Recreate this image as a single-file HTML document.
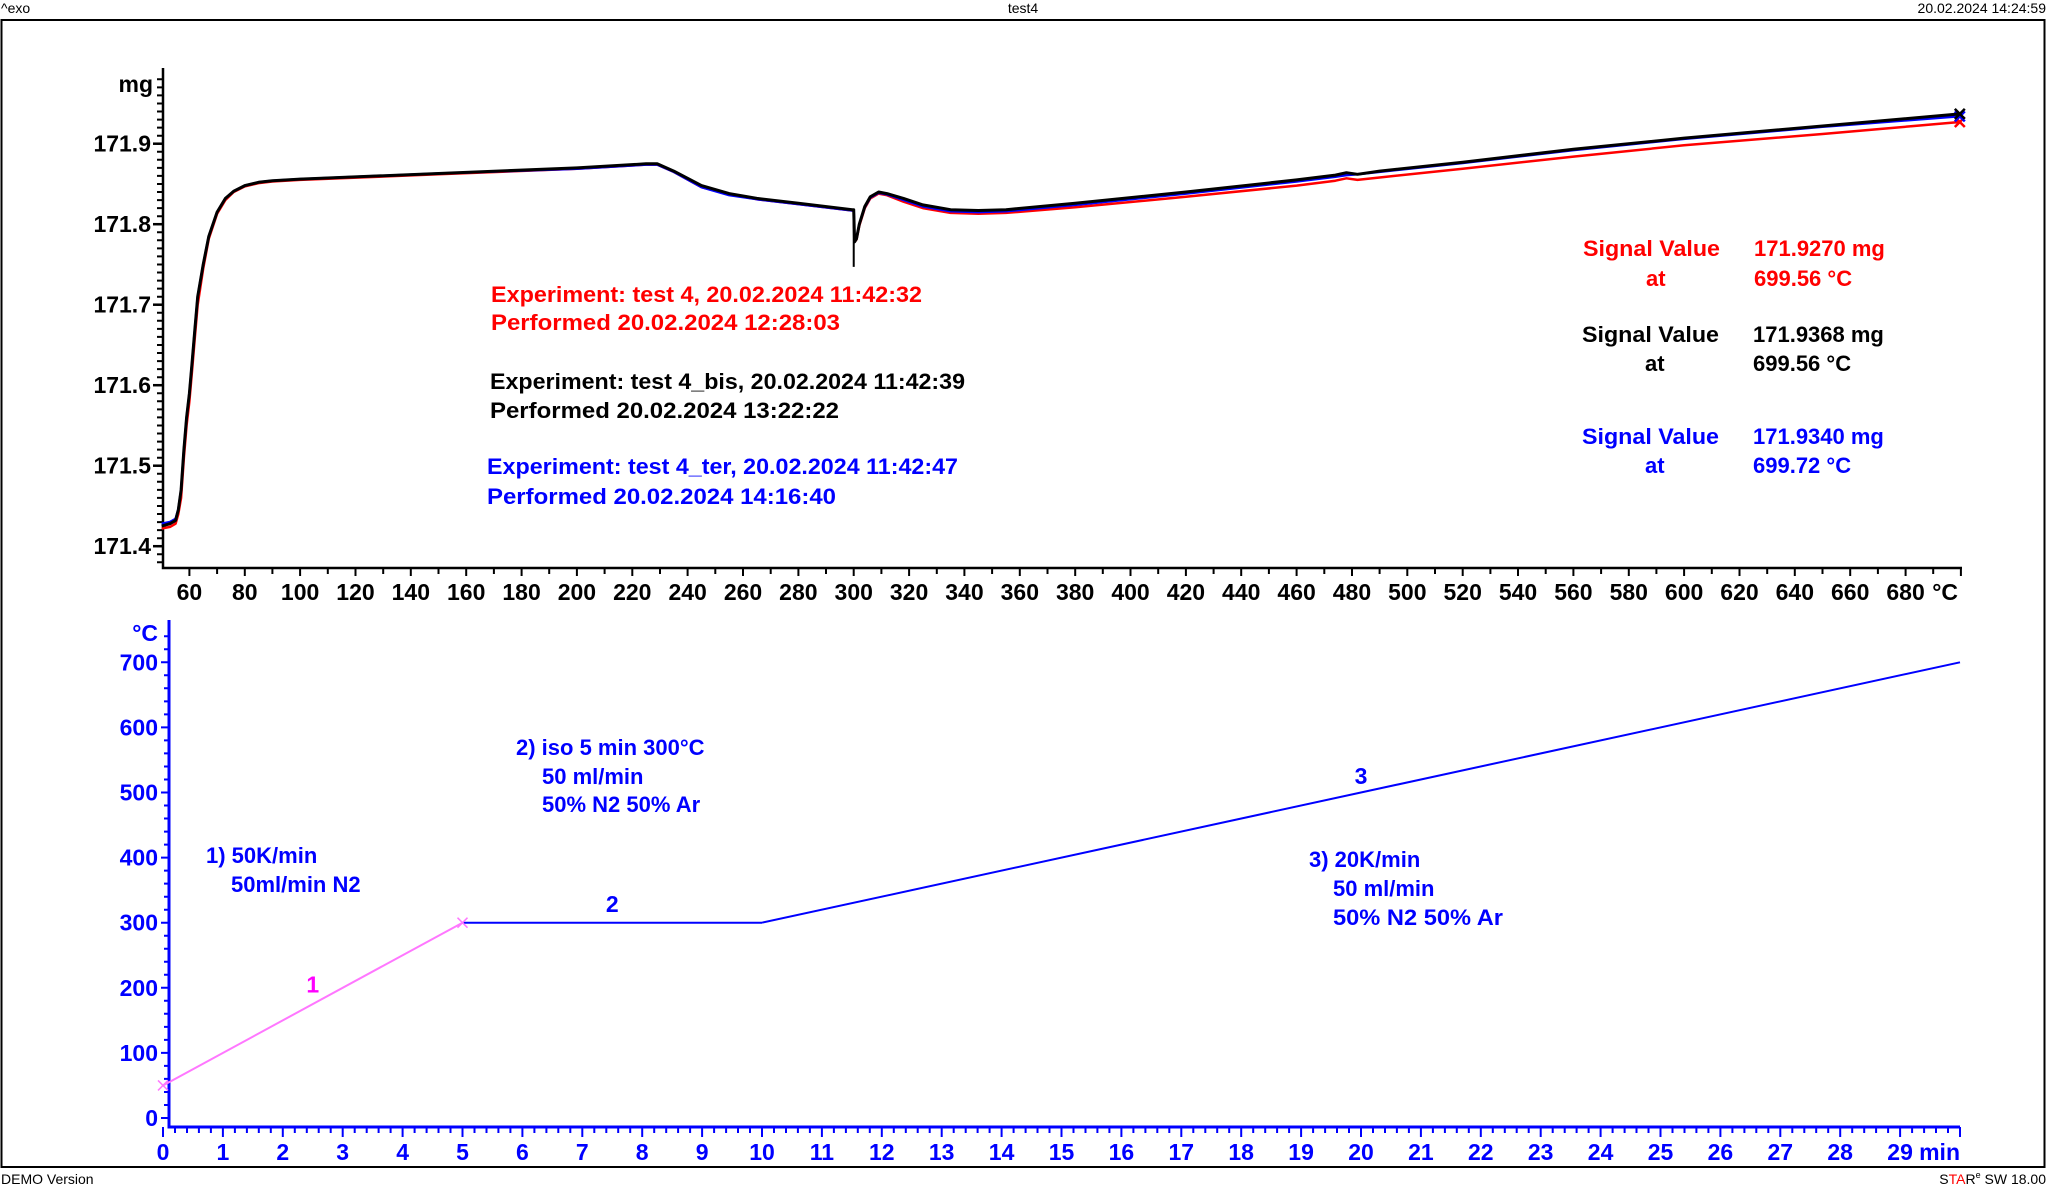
<!DOCTYPE html>
<html><head><meta charset="utf-8"><style>
html,body{margin:0;padding:0;background:#fff;}
svg{display:block;font-family:"Liberation Sans",Arial,sans-serif;}
.b{font-weight:bold;}
</style></head><body>
<svg id="chart" width="2048" height="1189" viewBox="0 0 2048 1189" xmlns="http://www.w3.org/2000/svg">
<text x="1" y="13" font-size="14">^exo</text>
<text x="1023" y="13" font-size="14" text-anchor="middle">test4</text>
<text x="2046" y="13" font-size="14" text-anchor="end">20.02.2024 14:24:59</text>
<rect x="1.5" y="20" width="2043" height="1147" fill="none" stroke="#000" stroke-width="2"/>
<text x="1" y="1184" font-size="14">DEMO Version</text>
<text x="2046" y="1184" font-size="14" text-anchor="end">S<tspan fill="#f00">TA</tspan>R<tspan font-size="9" dy="-6">e</tspan><tspan dy="6"> SW 18.00</tspan></text>
<g id="upper"></g>
<g id="lower"></g>
<g class="b" font-size="22">
<text x="491" y="302" fill="#f00" textLength="431" lengthAdjust="spacingAndGlyphs">Experiment: test 4, 20.02.2024 11:42:32</text>
<text x="491" y="330" fill="#f00" textLength="349" lengthAdjust="spacingAndGlyphs">Performed  20.02.2024 12:28:03</text>
<text x="490" y="389" fill="#000" textLength="475" lengthAdjust="spacingAndGlyphs">Experiment: test 4_bis, 20.02.2024 11:42:39</text>
<text x="490" y="418" fill="#000" textLength="349" lengthAdjust="spacingAndGlyphs">Performed  20.02.2024 13:22:22</text>
<text x="487" y="474" fill="#00f" textLength="471" lengthAdjust="spacingAndGlyphs">Experiment: test 4_ter, 20.02.2024 11:42:47</text>
<text x="487" y="504" fill="#00f" textLength="349" lengthAdjust="spacingAndGlyphs">Performed  20.02.2024 14:16:40</text>
</g>
<g class="b" font-size="22">
<text x="1583" y="256" fill="#f00" textLength="137" lengthAdjust="spacingAndGlyphs">Signal Value</text>
<text x="1646" y="286" fill="#f00">at</text>
<text x="1754" y="256" fill="#f00">171.9270 mg</text>
<text x="1754" y="286" fill="#f00">699.56 °C</text>
<text x="1582" y="342" fill="#000" textLength="137" lengthAdjust="spacingAndGlyphs">Signal Value</text>
<text x="1645" y="371" fill="#000">at</text>
<text x="1753" y="342" fill="#000">171.9368 mg</text>
<text x="1753" y="371" fill="#000">699.56 °C</text>
<text x="1582" y="444" fill="#00f" textLength="137" lengthAdjust="spacingAndGlyphs">Signal Value</text>
<text x="1645" y="473" fill="#00f">at</text>
<text x="1753" y="444" fill="#00f">171.9340 mg</text>
<text x="1753" y="473" fill="#00f">699.72 °C</text>
</g>
<g class="b" font-size="22" fill="#00f">
<text x="516" y="755">2) iso 5 min 300°C</text>
<text x="542" y="784">50 ml/min</text>
<text x="542" y="812">50% N2 50% Ar</text>
<text x="206" y="863">1) 50K/min</text>
<text x="231" y="892">50ml/min N2</text>
<text x="1309" y="867">3) 20K/min</text>
<text x="1333" y="896">50 ml/min</text>
<text x="1333" y="925" textLength="170" lengthAdjust="spacingAndGlyphs">50% N2 50% Ar</text>
</g>
</svg>
<script>
// ---- upper plot data (temperature °C vs mass mg) ----
const tempC = [50,53,55,56,57,58,59,60,61,62,63,65,67,70,73,76,80,85,90,100,150,200,225,229,235,245,255,265,280,299.5,300,300.3,301,302,304,306,309,312,318,325,335,345,355,380,420,460,474,478,482,490,520,560,600,650,699.6];
const massBlack = [171.425,171.428,171.432,171.445,171.47,171.52,171.56,171.59,171.63,171.67,171.71,171.75,171.785,171.815,171.832,171.841,171.848,171.852,171.854,171.856,171.863,171.870,171.875,171.875,171.866,171.848,171.838,171.832,171.826,171.818,171.818,171.778,171.782,171.800,171.822,171.834,171.840,171.838,171.832,171.824,171.818,171.817,171.818,171.826,171.840,171.855,171.861,171.864,171.862,171.866,171.877,171.893,171.907,171.922,171.937];
const massBlue = [171.428,171.430,171.434,171.446,171.47,171.52,171.56,171.59,171.63,171.67,171.71,171.75,171.785,171.815,171.832,171.841,171.848,171.852,171.854,171.856,171.863,171.869,171.874,171.874,171.865,171.846,171.836,171.831,171.825,171.817,171.817,171.779,171.782,171.800,171.821,171.833,171.839,171.837,171.830,171.822,171.816,171.815,171.816,171.824,171.838,171.853,171.859,171.861,171.862,171.865,171.876,171.892,171.906,171.921,171.934];
const massRed = [171.422,171.424,171.428,171.44,171.46,171.51,171.55,171.58,171.62,171.66,171.70,171.745,171.782,171.813,171.830,171.840,171.847,171.851,171.853,171.855,171.862,171.869,171.874,171.874,171.865,171.846,171.837,171.831,171.825,171.817,171.817,171.778,171.781,171.798,171.820,171.832,171.838,171.836,171.828,171.820,171.814,171.813,171.814,171.821,171.834,171.848,171.854,171.857,171.855,171.858,171.869,171.884,171.898,171.912,171.927];
const massTicks = [171.4,171.5,171.6,171.7,171.8,171.9];
const massTickLabels = ["171.4","171.5","171.6","171.7","171.8","171.9"];
const tempTicks = [60,80,100,120,140,160,180,200,220,240,260,280,300,320,340,360,380,400,420,440,460,480,500,520,540,560,580,600,620,640,660,680];
// ---- lower plot data (time min vs program temperature °C) ----
const progTime = [0,5,10,30];
const progTemp = [50,300,300,700];
const progTempTicks = [0,100,200,300,400,500,600,700];
const timeTicks = [0,1,2,3,4,5,6,7,8,9,10,11,12,13,14,15,16,17,18,19,20,21,22,23,24,25,26,27,28,29];
const segmentLabels = ["1","2","3"];

const NS="http://www.w3.org/2000/svg";
function mk(parent,tag,attrs,text){const e=document.createElementNS(NS,tag);for(const k in attrs)e.setAttribute(k,attrs[k]);if(text!==undefined)e.textContent=text;parent.appendChild(e);return e;}

const xT = t => 189.4 + (t-60)*2.768;
const yM = m => 143.7 + (171.9-m)*805;
const up=document.getElementById('upper');
let ax=mk(up,'path',{d:'M163,68 V568 H1962',fill:'none',stroke:'#000','stroke-width':2.5});


let md='';
for(let m=171.37;m<=171.981;m+=0.01){const y=yM(m);if(y<68||y>568)continue;md+=`M163,${y.toFixed(1)}h-6`;}
for(let t=50;t<=700;t+=10){const x=xT(t);if(x<163||x>1962)continue;md+=`M${x.toFixed(1)},568v${(t%20===0)?8:6}`;}
let mt=mk(up,'path',{d:md,stroke:'#000','stroke-width':2});


massTicks.forEach((m,i)=>{const y=yM(m);
 mk(up,'path',{d:`M163,${y}h-10`,stroke:'#000','stroke-width':2.5});
 const t=mk(up,'text',{x:151,y:y+8,'font-size':23,'font-weight':'bold','text-anchor':'end'},massTickLabels[i]);
 
 });
tempTicks.forEach(v=>{const t=mk(up,'text',{x:xT(v),y:600,'font-size':23,'font-weight':'bold','text-anchor':'middle'},String(v));
 
 });
let u1=mk(up,'text',{x:153,y:92,'font-size':23,'font-weight':'bold','text-anchor':'end'},'mg');


let u2=mk(up,'text',{x:1958,y:600,'font-size':23,'font-weight':'bold','text-anchor':'end'},'°C');


[[massRed,'#f00','red'],[massBlue,'#00f','blue'],[massBlack,'#000','black']].forEach(([arr,c,n])=>{
 const d=tempC.map((t,i)=>(i?'L':'M')+xT(t).toFixed(1)+','+yM(arr[i]).toFixed(1)).join('');
 const p=mk(up,'path',{d,fill:'none',stroke:c,'stroke-width':n==='black'?3:2.5,'stroke-linejoin':'round'});
 
 
 const xe=xT(tempC[tempC.length-1]),ye=yM(arr[arr.length-1]);
 const mkx=mk(up,'path',{d:`M${xe-5},${ye-5}l10,10M${xe-5},${ye+5}l10,-10`,stroke:c,'stroke-width':2.5});
 
 
});
let sp=mk(up,'path',{d:`M${xT(300)},${yM(171.818)}V${yM(171.747)}`,stroke:'#000','stroke-width':2});



const xt = m => 163 + m*59.9;
const yc = c => 1118 - c*0.651;
const lo=document.getElementById('lower');
let la=mk(lo,'path',{d:'M169,620 V1127 H1960',fill:'none',stroke:'#00f','stroke-width':3});


let ld='';
for(let c=0;c<=740;c+=20){const y=yc(c);if(y<620)continue;ld+=`M169,${y.toFixed(1)}h${c%100===0?-8:-5}`;}
for(let m=0;m<=30.001;m+=0.2){const x=xt(m);ld+=`M${x.toFixed(1)},1127v${Math.abs(m-Math.round(m))<0.01?10:6}`;}
let lt=mk(lo,'path',{d:ld,stroke:'#00f','stroke-width':2});


progTempTicks.forEach(v=>{const t=mk(lo,'text',{x:158,y:yc(v)+8,'font-size':23,'font-weight':'bold','text-anchor':'end',fill:'#00f'},String(v));
 
 });
timeTicks.forEach(v=>{const t=mk(lo,'text',{x:xt(v),y:1160,'font-size':23,'font-weight':'bold','text-anchor':'middle',fill:'#00f'},String(v));
 
 });
let l1=mk(lo,'text',{x:158,y:641,'font-size':23,'font-weight':'bold','text-anchor':'end',fill:'#00f'},'°C');


let l2=mk(lo,'text',{x:1960,y:1160,'font-size':23,'font-weight':'bold','text-anchor':'end',fill:'#00f'},'min');


for(let i=0;i<progTime.length-1;i++){
 const c=i===0?'#f7f':'#00f';
 const x1=xt(progTime[i]),y1=yc(progTemp[i]),x2=xt(progTime[i+1]),y2=yc(progTemp[i+1]);
 const s=mk(lo,'line',{x1,y1,x2,y2,stroke:c,'stroke-width':2});
 
 
}
[[0,50],[5,300]].forEach(([m,c])=>{const x=xt(m),y=yc(c);
 const k=mk(lo,'path',{d:`M${x-5},${y-5}l10,10M${x-5},${y+5}l10,-10`,stroke:'#f7f','stroke-width':1.5});
 
 });
const segLabelPos=[[2.5,205,'#f0f'],[7.5,329,'#00f'],[20,525,'#00f']];
segmentLabels.forEach((s,i)=>{const [m,c,col]=segLabelPos[i];
 const t=mk(lo,'text',{x:xt(m),y:yc(c)+8,'font-size':23,'font-weight':'bold','text-anchor':'middle',fill:col},s);
 
 });
</script>
</body></html>
